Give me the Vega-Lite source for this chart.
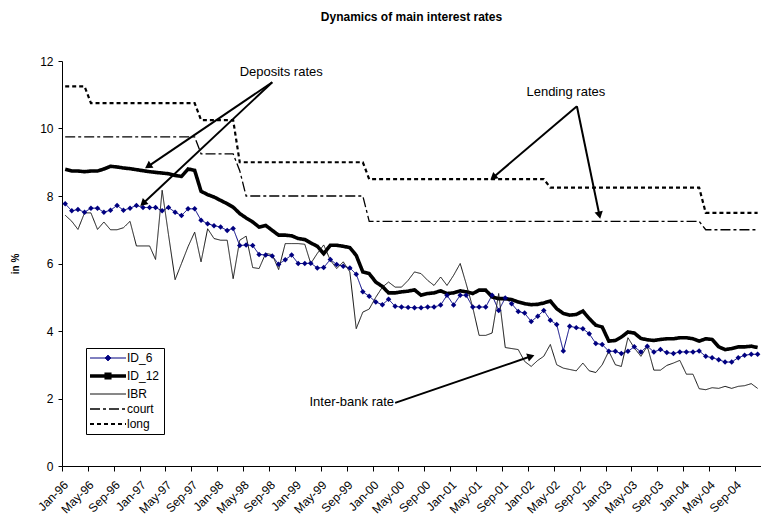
{
  "$schema": "https://vega.github.io/schema/vega-lite/v6.json",
  "width": 699,
  "height": 405,
  "autosize": {"type": "none"},
  "padding": {"left": 62, "top": 61, "right": 0, "bottom": 51},
  "background": "white",
  "title": {
    "text": "Dynamics of main interest rates",
    "font": "Liberation Sans",
    "fontSize": 12,
    "fontWeight": "bold",
    "color": "black",
    "anchor": "middle",
    "baseline": "bottom",
    "offset": 19
  },
  "config": {
    "view": {"stroke": null},
    "font": "Liberation Sans",
    "axis": {
      "labelFont": "Liberation Sans",
      "titleFont": "Liberation Sans",
      "labelColor": "black",
      "titleColor": "black",
      "domainColor": "black",
      "tickColor": "black",
      "grid": false,
      "labelFontSize": 12,
      "tickSize": 4
    }
  },
  "datasets": {
    "rates": [
      {"month": "1996-01-01", "ID_6": 7.77, "ID_12": 8.79, "IBR": 7.43, "court": 9.75, "long": 11.25},
      {"month": "1996-02-01", "ID_6": 7.56, "ID_12": 8.74, "IBR": 7.25, "court": 9.75, "long": 11.25},
      {"month": "1996-03-01", "ID_6": 7.60, "ID_12": 8.74, "IBR": 7.01, "court": 9.75, "long": 11.25},
      {"month": "1996-04-01", "ID_6": 7.52, "ID_12": 8.72, "IBR": 7.50, "court": 9.75, "long": 11.25},
      {"month": "1996-05-01", "ID_6": 7.64, "ID_12": 8.74, "IBR": 7.50, "court": 9.75, "long": 10.75},
      {"month": "1996-06-01", "ID_6": 7.64, "ID_12": 8.74, "IBR": 7.01, "court": 9.75, "long": 10.75},
      {"month": "1996-07-01", "ID_6": 7.52, "ID_12": 8.80, "IBR": 7.23, "court": 9.75, "long": 10.75},
      {"month": "1996-08-01", "ID_6": 7.58, "ID_12": 8.88, "IBR": 7.00, "court": 9.75, "long": 10.75},
      {"month": "1996-09-01", "ID_6": 7.72, "ID_12": 8.86, "IBR": 7.00, "court": 9.75, "long": 10.75},
      {"month": "1996-10-01", "ID_6": 7.58, "ID_12": 8.83, "IBR": 7.06, "court": 9.75, "long": 10.75},
      {"month": "1996-11-01", "ID_6": 7.64, "ID_12": 8.81, "IBR": 7.25, "court": 9.75, "long": 10.75},
      {"month": "1996-12-01", "ID_6": 7.72, "ID_12": 8.78, "IBR": 6.52, "court": 9.75, "long": 10.75},
      {"month": "1997-01-01", "ID_6": 7.66, "ID_12": 8.75, "IBR": 6.52, "court": 9.75, "long": 10.75},
      {"month": "1997-02-01", "ID_6": 7.66, "ID_12": 8.72, "IBR": 6.52, "court": 9.75, "long": 10.75},
      {"month": "1997-03-01", "ID_6": 7.66, "ID_12": 8.70, "IBR": 6.12, "court": 9.75, "long": 10.75},
      {"month": "1997-04-01", "ID_6": 7.56, "ID_12": 8.68, "IBR": 8.17, "court": 9.75, "long": 10.75},
      {"month": "1997-05-01", "ID_6": 7.66, "ID_12": 8.66, "IBR": 6.85, "court": 9.75, "long": 10.75},
      {"month": "1997-06-01", "ID_6": 7.52, "ID_12": 8.61, "IBR": 5.52, "court": 9.75, "long": 10.75},
      {"month": "1997-07-01", "ID_6": 7.42, "ID_12": 8.58, "IBR": 6.00, "court": 9.75, "long": 10.75},
      {"month": "1997-08-01", "ID_6": 7.62, "ID_12": 8.80, "IBR": 6.50, "court": 9.75, "long": 10.75},
      {"month": "1997-09-01", "ID_6": 7.62, "ID_12": 8.76, "IBR": 6.93, "court": 9.75, "long": 10.75},
      {"month": "1997-10-01", "ID_6": 7.28, "ID_12": 8.14, "IBR": 6.05, "court": 9.25, "long": 10.25},
      {"month": "1997-11-01", "ID_6": 7.18, "ID_12": 8.04, "IBR": 7.03, "court": 9.25, "long": 10.25},
      {"month": "1997-12-01", "ID_6": 7.12, "ID_12": 7.97, "IBR": 6.74, "court": 9.25, "long": 10.25},
      {"month": "1998-01-01", "ID_6": 7.08, "ID_12": 7.87, "IBR": 6.69, "court": 9.25, "long": 10.25},
      {"month": "1998-02-01", "ID_6": 6.98, "ID_12": 7.77, "IBR": 6.69, "court": 9.25, "long": 10.25},
      {"month": "1998-03-01", "ID_6": 7.04, "ID_12": 7.67, "IBR": 5.55, "court": 9.25, "long": 10.25},
      {"month": "1998-04-01", "ID_6": 6.53, "ID_12": 7.48, "IBR": 6.69, "court": 8.75, "long": 9.00},
      {"month": "1998-05-01", "ID_6": 6.55, "ID_12": 7.35, "IBR": 6.81, "court": 8.00, "long": 9.00},
      {"month": "1998-06-01", "ID_6": 6.53, "ID_12": 7.23, "IBR": 5.88, "court": 8.00, "long": 9.00},
      {"month": "1998-07-01", "ID_6": 6.27, "ID_12": 7.08, "IBR": 5.85, "court": 8.00, "long": 9.00},
      {"month": "1998-08-01", "ID_6": 6.25, "ID_12": 7.13, "IBR": 6.30, "court": 8.00, "long": 9.00},
      {"month": "1998-09-01", "ID_6": 6.22, "ID_12": 6.98, "IBR": 6.26, "court": 8.00, "long": 9.00},
      {"month": "1998-10-01", "ID_6": 5.98, "ID_12": 6.84, "IBR": 5.82, "court": 8.00, "long": 9.00},
      {"month": "1998-11-01", "ID_6": 6.11, "ID_12": 6.84, "IBR": 6.59, "court": 8.00, "long": 9.00},
      {"month": "1998-12-01", "ID_6": 6.25, "ID_12": 6.82, "IBR": 6.59, "court": 8.00, "long": 9.00},
      {"month": "1999-01-01", "ID_6": 6.00, "ID_12": 6.74, "IBR": 6.59, "court": 8.00, "long": 9.00},
      {"month": "1999-02-01", "ID_6": 6.00, "ID_12": 6.71, "IBR": 6.57, "court": 8.00, "long": 9.00},
      {"month": "1999-03-01", "ID_6": 6.01, "ID_12": 6.61, "IBR": 6.00, "court": 8.00, "long": 9.00},
      {"month": "1999-04-01", "ID_6": 5.87, "ID_12": 6.51, "IBR": 6.30, "court": 8.00, "long": 9.00},
      {"month": "1999-05-01", "ID_6": 5.88, "ID_12": 6.29, "IBR": 6.55, "court": 8.00, "long": 9.00},
      {"month": "1999-06-01", "ID_6": 6.12, "ID_12": 6.54, "IBR": 6.10, "court": 8.00, "long": 9.00},
      {"month": "1999-07-01", "ID_6": 5.97, "ID_12": 6.54, "IBR": 5.85, "court": 8.00, "long": 9.00},
      {"month": "1999-08-01", "ID_6": 5.92, "ID_12": 6.51, "IBR": 6.05, "court": 8.00, "long": 9.00},
      {"month": "1999-09-01", "ID_6": 5.87, "ID_12": 6.47, "IBR": 5.75, "court": 8.00, "long": 9.00},
      {"month": "1999-10-01", "ID_6": 5.68, "ID_12": 6.24, "IBR": 4.07, "court": 8.00, "long": 9.00},
      {"month": "1999-11-01", "ID_6": 5.16, "ID_12": 5.75, "IBR": 4.56, "court": 8.00, "long": 9.00},
      {"month": "1999-12-01", "ID_6": 5.03, "ID_12": 5.70, "IBR": 4.65, "court": 7.25, "long": 8.50},
      {"month": "2000-01-01", "ID_6": 4.86, "ID_12": 5.45, "IBR": 5.00, "court": 7.25, "long": 8.50},
      {"month": "2000-02-01", "ID_6": 4.78, "ID_12": 5.32, "IBR": 5.30, "court": 7.25, "long": 8.50},
      {"month": "2000-03-01", "ID_6": 4.94, "ID_12": 5.13, "IBR": 5.45, "court": 7.25, "long": 8.50},
      {"month": "2000-04-01", "ID_6": 4.73, "ID_12": 5.13, "IBR": 5.30, "court": 7.25, "long": 8.50},
      {"month": "2000-05-01", "ID_6": 4.71, "ID_12": 5.16, "IBR": 5.30, "court": 7.25, "long": 8.50},
      {"month": "2000-06-01", "ID_6": 4.70, "ID_12": 5.18, "IBR": 5.50, "court": 7.25, "long": 8.50},
      {"month": "2000-07-01", "ID_6": 4.69, "ID_12": 5.22, "IBR": 5.75, "court": 7.25, "long": 8.50},
      {"month": "2000-08-01", "ID_6": 4.69, "ID_12": 5.06, "IBR": 5.70, "court": 7.25, "long": 8.50},
      {"month": "2000-09-01", "ID_6": 4.71, "ID_12": 5.11, "IBR": 5.50, "court": 7.25, "long": 8.50},
      {"month": "2000-10-01", "ID_6": 4.71, "ID_12": 5.13, "IBR": 5.35, "court": 7.25, "long": 8.50},
      {"month": "2000-11-01", "ID_6": 4.77, "ID_12": 5.19, "IBR": 5.60, "court": 7.25, "long": 8.50},
      {"month": "2000-12-01", "ID_6": 5.06, "ID_12": 5.11, "IBR": 5.35, "court": 7.25, "long": 8.50},
      {"month": "2001-01-01", "ID_6": 4.77, "ID_12": 5.13, "IBR": 5.65, "court": 7.25, "long": 8.50},
      {"month": "2001-02-01", "ID_6": 5.06, "ID_12": 5.19, "IBR": 6.00, "court": 7.25, "long": 8.50},
      {"month": "2001-03-01", "ID_6": 5.06, "ID_12": 5.16, "IBR": 5.40, "court": 7.25, "long": 8.50},
      {"month": "2001-04-01", "ID_6": 4.71, "ID_12": 5.11, "IBR": 4.70, "court": 7.25, "long": 8.50},
      {"month": "2001-05-01", "ID_6": 4.71, "ID_12": 5.21, "IBR": 3.87, "court": 7.25, "long": 8.50},
      {"month": "2001-06-01", "ID_6": 4.71, "ID_12": 5.21, "IBR": 3.87, "court": 7.25, "long": 8.50},
      {"month": "2001-07-01", "ID_6": 5.06, "ID_12": 5.01, "IBR": 3.94, "court": 7.25, "long": 8.50},
      {"month": "2001-08-01", "ID_6": 4.61, "ID_12": 4.96, "IBR": 5.11, "court": 7.25, "long": 8.50},
      {"month": "2001-09-01", "ID_6": 4.98, "ID_12": 4.96, "IBR": 3.51, "court": 7.25, "long": 8.50},
      {"month": "2001-10-01", "ID_6": 4.81, "ID_12": 4.93, "IBR": 3.48, "court": 7.25, "long": 8.50},
      {"month": "2001-11-01", "ID_6": 4.58, "ID_12": 4.86, "IBR": 3.45, "court": 7.25, "long": 8.50},
      {"month": "2001-12-01", "ID_6": 4.53, "ID_12": 4.81, "IBR": 3.10, "court": 7.25, "long": 8.50},
      {"month": "2002-01-01", "ID_6": 4.28, "ID_12": 4.78, "IBR": 2.95, "court": 7.25, "long": 8.50},
      {"month": "2002-02-01", "ID_6": 4.44, "ID_12": 4.79, "IBR": 3.13, "court": 7.25, "long": 8.50},
      {"month": "2002-03-01", "ID_6": 4.61, "ID_12": 4.83, "IBR": 3.25, "court": 7.25, "long": 8.50},
      {"month": "2002-04-01", "ID_6": 4.32, "ID_12": 4.89, "IBR": 3.60, "court": 7.25, "long": 8.25},
      {"month": "2002-05-01", "ID_6": 4.19, "ID_12": 4.66, "IBR": 3.00, "court": 7.25, "long": 8.25},
      {"month": "2002-06-01", "ID_6": 3.41, "ID_12": 4.52, "IBR": 2.90, "court": 7.25, "long": 8.25},
      {"month": "2002-07-01", "ID_6": 4.14, "ID_12": 4.47, "IBR": 2.86, "court": 7.25, "long": 8.25},
      {"month": "2002-08-01", "ID_6": 4.10, "ID_12": 4.49, "IBR": 2.82, "court": 7.25, "long": 8.25},
      {"month": "2002-09-01", "ID_6": 4.07, "ID_12": 4.59, "IBR": 3.05, "court": 7.25, "long": 8.25},
      {"month": "2002-10-01", "ID_6": 3.92, "ID_12": 4.37, "IBR": 2.82, "court": 7.25, "long": 8.25},
      {"month": "2002-11-01", "ID_6": 3.63, "ID_12": 4.17, "IBR": 2.77, "court": 7.25, "long": 8.25},
      {"month": "2002-12-01", "ID_6": 3.60, "ID_12": 4.12, "IBR": 3.00, "court": 7.25, "long": 8.25},
      {"month": "2003-01-01", "ID_6": 3.40, "ID_12": 3.70, "IBR": 3.40, "court": 7.25, "long": 8.25},
      {"month": "2003-02-01", "ID_6": 3.40, "ID_12": 3.72, "IBR": 3.00, "court": 7.25, "long": 8.25},
      {"month": "2003-03-01", "ID_6": 3.33, "ID_12": 3.82, "IBR": 2.95, "court": 7.25, "long": 8.25},
      {"month": "2003-04-01", "ID_6": 3.40, "ID_12": 3.97, "IBR": 3.80, "court": 7.25, "long": 8.25},
      {"month": "2003-05-01", "ID_6": 3.53, "ID_12": 3.94, "IBR": 3.50, "court": 7.25, "long": 8.25},
      {"month": "2003-06-01", "ID_6": 3.38, "ID_12": 3.78, "IBR": 3.25, "court": 7.25, "long": 8.25},
      {"month": "2003-07-01", "ID_6": 3.55, "ID_12": 3.74, "IBR": 3.55, "court": 7.25, "long": 8.25},
      {"month": "2003-08-01", "ID_6": 3.38, "ID_12": 3.72, "IBR": 2.84, "court": 7.25, "long": 8.25},
      {"month": "2003-09-01", "ID_6": 3.45, "ID_12": 3.75, "IBR": 2.84, "court": 7.25, "long": 8.25},
      {"month": "2003-10-01", "ID_6": 3.36, "ID_12": 3.77, "IBR": 2.98, "court": 7.25, "long": 8.25},
      {"month": "2003-11-01", "ID_6": 3.33, "ID_12": 3.77, "IBR": 3.05, "court": 7.25, "long": 8.25},
      {"month": "2003-12-01", "ID_6": 3.38, "ID_12": 3.80, "IBR": 3.13, "court": 7.25, "long": 8.25},
      {"month": "2004-01-01", "ID_6": 3.38, "ID_12": 3.80, "IBR": 2.72, "court": 7.25, "long": 8.25},
      {"month": "2004-02-01", "ID_6": 3.38, "ID_12": 3.77, "IBR": 2.72, "court": 7.25, "long": 8.25},
      {"month": "2004-03-01", "ID_6": 3.41, "ID_12": 3.70, "IBR": 2.29, "court": 7.25, "long": 8.25},
      {"month": "2004-04-01", "ID_6": 3.25, "ID_12": 3.77, "IBR": 2.26, "court": 7.00, "long": 7.50},
      {"month": "2004-05-01", "ID_6": 3.21, "ID_12": 3.75, "IBR": 2.32, "court": 7.00, "long": 7.50},
      {"month": "2004-06-01", "ID_6": 3.15, "ID_12": 3.53, "IBR": 2.30, "court": 7.00, "long": 7.50},
      {"month": "2004-07-01", "ID_6": 3.08, "ID_12": 3.45, "IBR": 2.36, "court": 7.00, "long": 7.50},
      {"month": "2004-08-01", "ID_6": 3.08, "ID_12": 3.48, "IBR": 2.30, "court": 7.00, "long": 7.50},
      {"month": "2004-09-01", "ID_6": 3.21, "ID_12": 3.53, "IBR": 2.36, "court": 7.00, "long": 7.50},
      {"month": "2004-10-01", "ID_6": 3.28, "ID_12": 3.53, "IBR": 2.38, "court": 7.00, "long": 7.50},
      {"month": "2004-11-01", "ID_6": 3.31, "ID_12": 3.55, "IBR": 2.44, "court": 7.00, "long": 7.50},
      {"month": "2004-12-01", "ID_6": 3.31, "ID_12": 3.51, "IBR": 2.30, "court": 7.00, "long": 7.50}
    ],
    "arrows": [
      {"arrow": "d1", "from": "1998-09-16", "fromRate": 11.37, "to": "1997-02-09", "toRate": 8.88},
      {"arrow": "d2", "from": "1998-09-16", "fromRate": 11.37, "to": "1997-01-16", "toRate": 7.78},
      {"arrow": "l1", "from": "2002-08-19", "fromRate": 10.66, "to": "2001-07-21", "toRate": 8.55},
      {"arrow": "l2", "from": "2002-08-19", "fromRate": 10.66, "to": "2002-12-03", "toRate": 7.43},
      {"arrow": "ib", "from": "2000-04-16", "fromRate": 1.87, "to": "2002-01-15", "toRate": 3.25}
    ],
    "notes": [
      {"label": "Deposits rates", "at": "1998-10-28", "rate": 11.66},
      {"label": "Lending rates", "at": "2002-06-28", "rate": 11.08},
      {"label": "Inter-bank rate", "at": "1999-09-25", "rate": 1.89}
    ]
  },
  "layer": [
    {
      "data": {"name": "rates"},
      "transform": [{"fold": ["ID_6", "ID_12", "IBR", "court", "long"], "as": ["series", "value"]}],
      "mark": {"type": "line", "xOffset": 3.2, "strokeCap": "butt"},
      "encoding": {
        "x": {
          "field": "month",
          "type": "temporal",
          "title": null,
          "scale": {
            "type": "utc",
            "domain": [
              {"year": 1996, "month": 1, "date": 1, "utc": true},
              {"year": 2005, "month": 1, "date": 1, "utc": true}
            ]
          },
          "axis": {
            "format": "%b-%y",
            "tickCount": {"interval": "month", "step": 4},
            "labelExpr": "utcyear(datum.value) >= 2005 ? '' : datum.label",
            "labelAngle": -45,
            "labelFontSize": 12,
            "labelPadding": 8,
            "labelOverlap": false,
            "labelFlush": false,
            "tickSize": 5
          }
        },
        "y": {
          "field": "value",
          "type": "quantitative",
          "title": "in %",
          "scale": {"domain": [0, 12], "nice": false},
          "axis": {
            "values": [0, 2, 4, 6, 8, 10, 12],
            "titleFontSize": 10,
            "titleFontWeight": "bold",
            "titlePadding": 19,
            "labelPadding": 5
          }
        },
        "color": {
          "field": "series",
          "type": "nominal",
          "scale": {
            "domain": ["ID_6", "ID_12", "IBR", "court", "long"],
            "range": ["#000080", "#000000", "#111111", "#000000", "#000000"]
          },
          "legend": {
            "title": null,
            "orient": "none",
            "legendX": 24,
            "legendY": 287,
            "direction": "vertical",
            "strokeColor": "black",
            "fillColor": "white",
            "padding": 4,
            "symbolType": "M-1,0H5",
            "symbolSize": 144,
            "symbolStrokeWidth": 1,
            "labelFont": "Liberation Sans",
            "labelFontSize": 12,
            "labelColor": "black",
            "labelOffset": 25,
            "rowPadding": 3,
            "encode": {
              "symbols": {
                "update": {
                  "shape": {"signal": "datum.value === 'ID_6' ? 'M-1,0H5M2,-0.5L2.5,0L2,0.5L1.5,0Z' : (datum.value === 'ID_12' ? 'M-1,0H5M1.7,-0.3H2.3V0.3H1.7Z' : 'M-1,0H5')"},
                  "fill": {"signal": "datum.value === 'ID_6' ? '#000080' : 'black'"},
                  "strokeWidth": {"signal": "datum.value === 'ID_12' ? 3.5 : (datum.value === 'long' ? 2.2 : (datum.value === 'court' ? 1.3 : 1))"}
                }
              }
            }
          }
        },
        "strokeDash": {
          "field": "series",
          "type": "nominal",
          "scale": {
            "domain": ["ID_6", "ID_12", "IBR", "court", "long"],
            "range": [[1, 0], [1, 0], [1, 0], [10, 3, 3, 3], [4, 3]]
          }
        },
        "strokeWidth": {
          "condition": [
            {"test": "datum.series === 'ID_12'", "value": 3.6},
            {"test": "datum.series === 'long'", "value": 2.2},
            {"test": "datum.series === 'court'", "value": 1.3}
          ],
          "value": 1
        }
      }
    },
    {
      "data": {"name": "rates"},
      "mark": {"type": "point", "shape": "diamond", "filled": true, "size": 30, "opacity": 1, "color": "#000080", "xOffset": 3.2},
      "encoding": {
        "x": {"field": "month", "type": "temporal", "title": null},
        "y": {"field": "ID_6", "type": "quantitative", "title": "in %"}
      }
    },
    {
      "data": {"name": "arrows"},
      "mark": {"type": "rule", "color": "black", "strokeWidth": 2},
      "encoding": {
        "x": {"field": "from", "type": "temporal", "title": null},
        "y": {"field": "fromRate", "type": "quantitative", "title": "in %"},
        "x2": {"field": "to"},
        "y2": {"field": "toRate"}
      }
    },
    {
      "data": {"name": "arrows"},
      "mark": {"type": "point", "shape": "triangle-up", "filled": true, "size": 70, "opacity": 1, "color": "black"},
      "encoding": {
        "x": {"field": "to", "type": "temporal", "title": null},
        "y": {"field": "toRate", "type": "quantitative", "title": "in %"},
        "angle": {
          "condition": [
            {"test": "datum.arrow === 'd1'", "value": 236},
            {"test": "datum.arrow === 'd2'", "value": 227},
            {"test": "datum.arrow === 'l1'", "value": 230},
            {"test": "datum.arrow === 'l2'", "value": 168}
          ],
          "value": 71
        }
      }
    },
    {
      "data": {"name": "notes"},
      "mark": {"type": "text", "font": "Liberation Sans", "fontSize": 13, "color": "black", "align": "center", "baseline": "middle"},
      "encoding": {
        "x": {"field": "at", "type": "temporal", "title": null},
        "y": {"field": "rate", "type": "quantitative", "title": "in %"},
        "text": {"field": "label"}
      }
    }
  ]
}
